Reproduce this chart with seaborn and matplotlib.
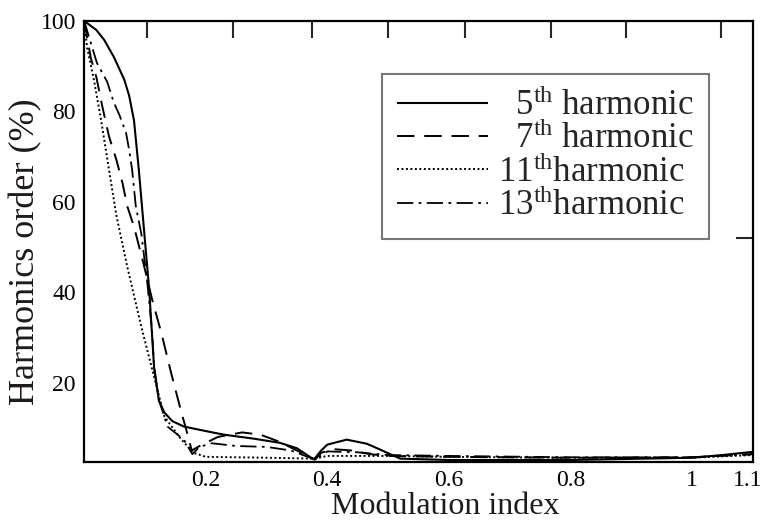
import matplotlib
matplotlib.use("Agg")
import matplotlib.pyplot as plt
import matplotlib.transforms as mtransforms
import seaborn as sns
import pandas as pd

sns.set_theme(style="white")
plt.rcParams['font.family'] = ['Liberation Serif', 'DejaVu Serif']
plt.rcParams['mathtext.fontset'] = 'custom'
plt.rcParams['mathtext.rm'] = 'Liberation Serif'
plt.rcParams['mathtext.it'] = 'Liberation Serif:italic'

# ---- data ----
x5 = [0, 0.02, 0.033, 0.049, 0.066, 0.074, 0.082, 0.09, 0.099, 0.107, 0.115, 0.123, 0.132, 0.145,
      0.164, 0.2, 0.23, 0.28, 0.322, 0.35, 0.378, 0.39, 0.40, 0.432, 0.465, 0.487, 0.52, 0.6,
      0.8, 1.0, 1.05, 1.1]
y5 = [100, 98, 95.8, 92, 87, 83.5, 78, 67, 53, 40.6, 23.5, 16, 13.4, 11.5,
      10.3, 9.3, 8.5, 7.6, 6.7, 5.5, 3.0, 5.0, 6.3, 7.4, 6.5, 5.2, 3.2, 2.9,
      2.9, 3.4, 4.0, 4.7]

x7 = [0, 0.011, 0.02, 0.03, 0.041, 0.053, 0.063, 0.071, 0.082, 0.099, 0.112, 0.127, 0.143, 0.16,
      0.168, 0.177, 0.19, 0.22, 0.26, 0.29, 0.32, 0.35, 0.38, 0.39, 0.41, 0.44, 0.47, 0.5,
      0.6, 0.8, 1.0, 1.1]
y7 = [100, 91.8, 87.6, 81, 74.4, 69.3, 64.2, 59, 54.5, 45.6, 38.3, 31, 22.2, 13.4,
      9.6, 5.0, 6.0, 8.0, 9.0, 8.5, 7.0, 5.0, 3.0, 4.5, 5.3, 5.0, 4.2, 3.8,
      3.6, 3.4, 3.5, 4.2]

x11 = [0, 0.005, 0.016, 0.028, 0.041, 0.053, 0.071, 0.094, 0.115, 0.132, 0.16, 0.18, 0.2,
       0.3, 0.38, 0.4, 0.5, 0.6, 0.8, 1.0, 1.1]
y11 = [100, 94, 87, 78, 67, 57, 45.6, 32.4, 21.3, 12.5, 7.4, 4.5, 3.6,
       3.4, 3.2, 3.8, 3.8, 3.6, 3.4, 3.4, 4.0]

x13 = [0, 0.021, 0.038, 0.049, 0.058, 0.069, 0.074, 0.079, 0.085, 0.094, 0.104, 0.112, 0.115,
       0.123, 0.137, 0.164, 0.178, 0.19, 0.21, 0.25, 0.3, 0.34, 0.38, 0.40, 0.45, 0.5,
       0.6, 0.8, 1.0, 1.1]
y13 = [100, 90.7, 86.5, 81.9, 79.2, 75.2, 71.5, 67, 59, 53, 42, 31, 23.5,
       16.2, 10.3, 7.4, 4.2, 5.8, 6.6, 6.0, 5.8, 5.0, 3.0, 4.8, 4.6, 4.0,
       3.8, 3.5, 3.5, 4.2]

labels = [r"  5$^{\mathrm{th}}$ harmonic", r"  7$^{\mathrm{th}}$ harmonic",
          r"11$^{\mathrm{th}}$harmonic", r"13$^{\mathrm{th}}$harmonic"]
x_ticks = [0.2, 0.4, 0.6, 0.8, 1.0, 1.1]
x_ticklabels = ["0.2", "0.4", "0.6", "0.8", "1", "1.1"]
y_ticks = [20, 40, 60, 80, 100]
top_ticks = [0.104, 0.245, 0.375, 0.5, 0.627, 0.768, 0.891, 1.048]
right_ticks = [52]

series = [(x5, y5), (x7, y7), (x11, y11), (x13, y13)]
styles = [(0, ()), (0, (9, 5)), (0, (1, 1.3)), (0, (9, 3, 1.5, 3))]
widths = [1.5, 1.4, 1.4, 1.3]

fig = plt.figure(figsize=(7.65, 5.23), dpi=100)
ax = fig.add_axes([0.110, 0.117, 0.874, 0.843])

for (xs, ys), lab, ls, lw in zip(series, labels, styles, widths):
    df = pd.DataFrame({"x": xs, "y": ys})
    sns.lineplot(data=df, x="x", y="y", ax=ax, color="black", linestyle=ls,
                 linewidth=lw, label=lab, sort=False, estimator=None)

ax.set_xlim(0, 1.1)
ax.set_ylim(2.5, 100)
ax.set_xticks(x_ticks)
ax.set_xticklabels(x_ticklabels)
ax.set_yticks(y_ticks)
ax.tick_params(axis='both', direction='in', labelsize=17, colors='black', width=1.5,
               pad=6)
ax.tick_params(axis='y', length=12)
ax.tick_params(axis='x', length=9)
for sp in ax.spines.values():
    sp.set_color('black')
    sp.set_linewidth(1.6)

# nudge the last x tick label so it stays inside the figure
last = ax.get_xticklabels()[-1]
last.set_transform(last.get_transform() +
                   mtransforms.ScaledTranslation(-4 / 72, 0, fig.dpi_scale_trans))

sec = ax.secondary_xaxis('top')
sec.set_ticks(top_ticks)
sec.tick_params(direction='in', length=12, width=1.5, labeltop=False)
sec.spines['top'].set_visible(False)
secy = ax.secondary_yaxis('right')
secy.set_ticks(right_ticks)
secy.tick_params(direction='in', length=12, width=1.5, labelright=False)
secy.spines['right'].set_visible(False)

ax.set_xlabel("Modulation index", fontsize=23, color='#1e1a1a')
ax.set_ylabel("Harmonics order (%)", fontsize=26, color='#1e1a1a')
ax.xaxis.set_label_coords(0.54, -0.068)
ax.yaxis.set_label_coords(-0.062, 0.477)

leg = ax.legend(loc='upper left', bbox_to_anchor=(0.445, 0.88), fontsize=25,
                frameon=True, fancybox=False, shadow=False, handlelength=2.6,
                handletextpad=0.3, labelspacing=0.0, borderpad=0.45,
                borderaxespad=0)
leg.get_frame().set_edgecolor('#777777')
leg.get_frame().set_linewidth(1.5)
leg.get_frame().set_alpha(1)

fig.savefig("out.png", dpi=100)
